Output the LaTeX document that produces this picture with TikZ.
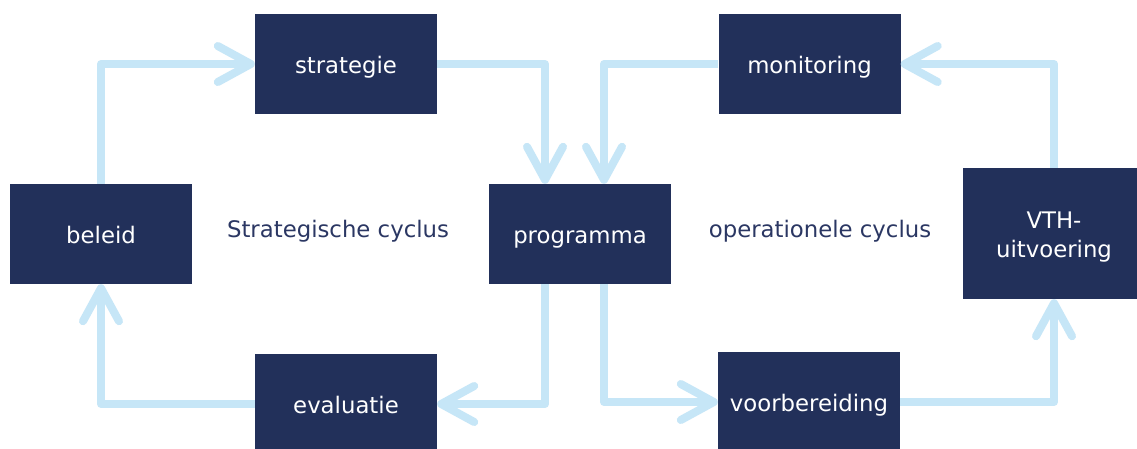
\documentclass[tikz,border=0pt]{standalone}
\usepackage{fontspec}
\setmainfont{DejaVu Sans}
\usetikzlibrary{arrows.meta,calc}
\definecolor{navy}{HTML}{22305A}
\definecolor{lblue}{HTML}{C6E6F7}
\definecolor{txtnavy}{HTML}{2B3763}
\tikzset{
  box/.style={fill=navy, text=white, minimum width=182pt, minimum height=100pt, inner sep=0pt, align=center,
    font=\fontsize{22.8}{29}\selectfont, text height=22.9pt, text depth=4.8pt},
  flow/.style={draw=lblue, line width=8pt, line join=round,
    -{Straight Barb[length=33pt,width=36pt,round]}},
  cyclab/.style={text=txtnavy, font=\fontsize{22.8}{26}\selectfont, inner sep=0pt}
}
\begin{document}
\begin{tikzpicture}[x=1pt,y=-1pt]
\clip (0,0) rectangle (1137,448);
\fill[white] (0,0) rectangle (1137,448);
\node[box] (beleid) at (101,234) {beleid};
\node[box] (strategie) at (346,64) {strategie};
\node[box] (evaluatie) at (346,404) {evaluatie};
\node[box] (programma) at (580,234) {programma};
\node[box] (monitoring) at (809.5,64) {monitoring};
\node[box] (voorbereiding) at (809,402) {voorbereiding};
\node[box, minimum height=131pt, text height={}, text depth={}] (vth) at (1054,233.5)
  {\rule{0pt}{22.9pt}VTH-\\uitvoering\rule[-4.8pt]{0pt}{4.8pt}};
\node[cyclab] (sc) at (338,231) {Strategische cyclus};
\node[cyclab] (oc) at (820,231) {operationele cyclus};
\coordinate (pinL) at ($(programma.north)+(-35,0)$);
\coordinate (pinR) at ($(programma.north)+(24,0)$);
\coordinate (poutL) at ($(programma.south)+(-35,0)$);
\coordinate (poutR) at ($(programma.south)+(24,0)$);
\draw[flow] (beleid.north) |- (strategie.west);
\draw[flow] (strategie.east) -| (pinL);
\draw[flow] (monitoring.west) -| (pinR);
\draw[flow] (poutL) |- (evaluatie.east);
\draw[flow] (poutR) |- (voorbereiding.west);
\draw[flow] (voorbereiding.east) -| (vth.south);
\draw[flow] (vth.north) |- (monitoring.east);
\draw[flow] (evaluatie.west) -| (beleid.south);
\end{tikzpicture}
\end{document}
